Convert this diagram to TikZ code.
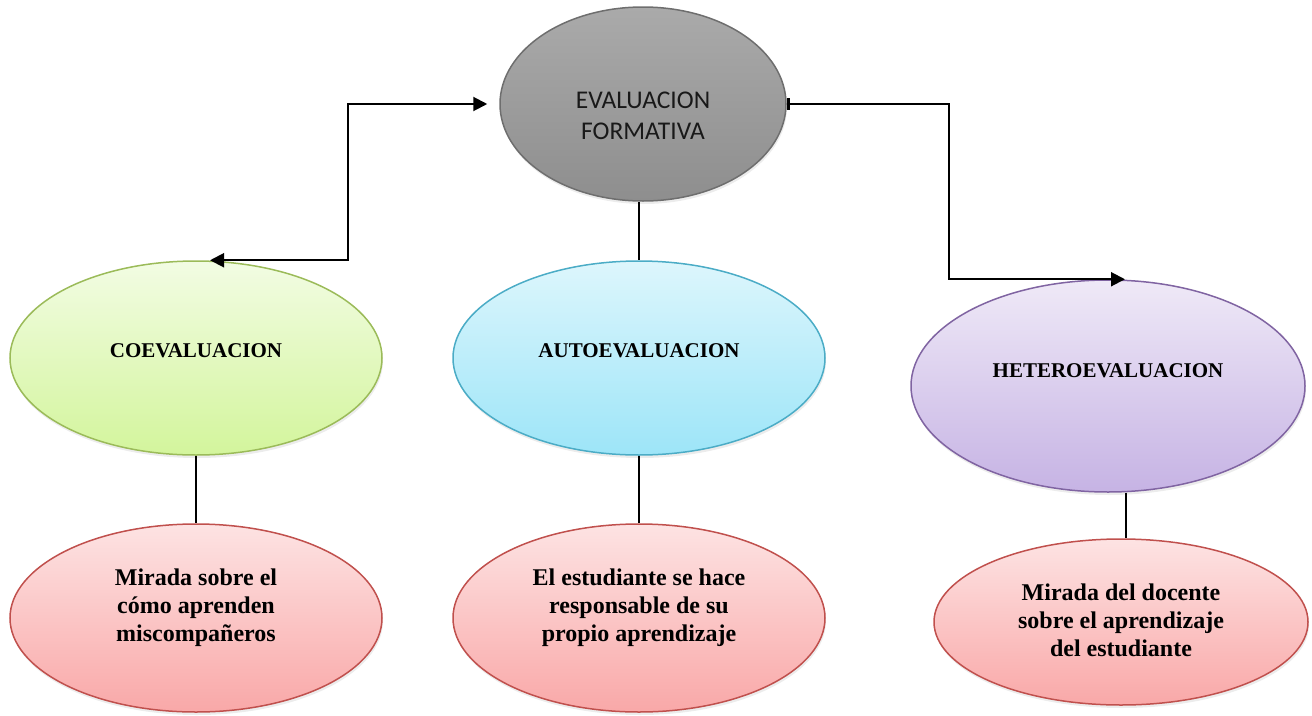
\documentclass[tikz,border=0pt]{standalone}
\usepackage{fontspec}
\setmainfont{Liberation Serif}
\newfontfamily\calibri{Carlito}
\usetikzlibrary{shapes.geometric,arrows.meta,shadows}

\definecolor{evalline}{HTML}{6E6E6E}
\definecolor{evaltop}{HTML}{AAAAAA}
\definecolor{evalbot}{HTML}{8E8E8E}
\definecolor{coeline}{HTML}{9BBB59}
\definecolor{coetop}{HTML}{F2FCE3}
\definecolor{coebot}{HTML}{D3F59C}
\definecolor{autoline}{HTML}{4BACC6}
\definecolor{autotop}{HTML}{DDF6FC}
\definecolor{autobot}{HTML}{9DE5F8}
\definecolor{hetline}{HTML}{8064A2}
\definecolor{hettop}{HTML}{EFE9F7}
\definecolor{hetbot}{HTML}{C6B3E4}
\definecolor{noteline}{HTML}{C0504D}
\definecolor{notetop}{HTML}{FDE3E3}
\definecolor{notebot}{HTML}{F9A8A8}

\tikzset{
  bubble/.style={ellipse, draw, line width=1.5pt, inner sep=0pt,
    drop shadow={opacity=0.15, shadow xshift=1pt, shadow yshift=-3pt}},
  notebubble/.style={bubble, draw=noteline, top color=notetop, bottom color=notebot},
  head/.style={font=\bfseries\fontsize{21}{25}\selectfont},
  note/.style={align=center, font=\bfseries\fontsize{24}{28}\selectfont},
  link/.style={line width=1.6pt},
  conn/.style={line width=2pt, >={Triangle[length=14pt,width=14pt]}}
}

\begin{document}
\begin{tikzpicture}[x=1pt, y=-1pt]
\useasboundingbox (0,0) rectangle (1312,715);

\node[bubble, draw=evalline, top color=evaltop, bottom color=evalbot,
  minimum width=286pt, minimum height=194pt,
  label={[yshift=-12pt, align=center, text=black!90, font=\calibri\fontsize{25.5}{31}\selectfont]center:{EVALUACION\\FORMATIVA}}]
  (eval) at (643,104) {};

\node[bubble, draw=coeline, top color=coetop, bottom color=coebot,
  minimum width=372pt, minimum height=194pt,
  label={[yshift=7pt, head]center:COEVALUACION}] (coe) at (196,358) {};
\node[bubble, draw=autoline, top color=autotop, bottom color=autobot,
  minimum width=372pt, minimum height=194pt,
  label={[yshift=7pt, head]center:AUTOEVALUACION}] (auto) at (639,358) {};
\node[bubble, draw=hetline, top color=hettop, bottom color=hetbot,
  minimum width=394pt, minimum height=212pt,
  label={[yshift=15pt, head]center:HETEROEVALUACION}] (het) at (1108,386) {};

\node[notebubble, minimum width=372pt, minimum height=188pt,
  label={[yshift=10pt, note]center:{Mirada sobre el\\cómo aprenden\\miscompañeros}}]
  (peer) at (196,618) {};
\node[notebubble, minimum width=372pt, minimum height=188pt,
  label={[yshift=10pt, note]center:{El estudiante se hace\\responsable de su\\propio aprendizaje}}]
  (self) at (639,618) {};
\node[notebubble, minimum width=374pt, minimum height=166pt,
  label={[yshift=2pt, note]center:{Mirada del docente\\sobre el aprendizaje\\del estudiante}}]
  (teach) at (1121,622) {};

% connectors
\draw[conn, <->] ([xshift=-12pt]eval.west) -- (348,104) |- ([xshift=14pt]coe.north);
\draw[conn, {Bar[width=12pt,line width=3.5pt]}->] (eval.east) -- (949,104) |- ([xshift=17pt]het.north);

\draw[link] (eval.south -| auto.north) -- (auto.north);
\draw[link] (coe.south) -- (peer.north);
\draw[link] (auto.south) -- (self.north);
\draw[link] ([xshift=18pt]het.south) -- ([xshift=5pt]teach.north);

\end{tikzpicture}
\end{document}
